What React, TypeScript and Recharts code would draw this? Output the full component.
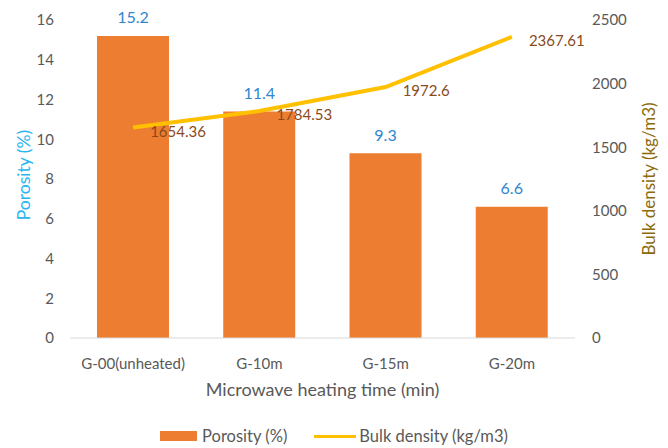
import React from 'react';
import {
    ComposedChart,
    Bar,
    Line,
    XAxis,
    YAxis,
    Legend,
    LabelList,
} from 'recharts';

const categories = ['G-00(unheated)', 'G-10m', 'G-15m', 'G-20m'];
const porosity = [15.2, 11.4, 9.3, 6.6];
const bulkDensity = [1654.36, 1784.53, 1972.6, 2367.61];
const porosityTicks = [0, 2, 4, 6, 8, 10, 12, 14, 16];
const densityTicks = [0, 500, 1000, 1500, 2000, 2500];

const data = categories.map((name, i) => ({
    name,
    porosity: porosity[i],
    density: bulkDensity[i],
}));

const FONT = 'Lato, "Open Sans", sans-serif';
const GREY = '#595959';

const BarValue = (props: any) => {
    const { x, y, width, value } = props;
    return (
        <text x={x + width / 2} y={y - 19} textAnchor="middle" dominantBaseline="central"
            fill="#2E86D1" fontSize={16} fontFamily={FONT}>
            {value}
        </text>
    );
};

const LineValue = (props: any) => {
    const { x, y, value } = props;
    return (
        <text x={x + 17} y={y + 3} textAnchor="start" dominantBaseline="central"
            fill="#8A4A1C" fontSize={15} fontFamily={FONT}>
            {value}
        </text>
    );
};

const LeftTitle = (props: any) => {
    const { viewBox } = props;
    const x = viewBox.x + 23;
    const y = viewBox.y + viewBox.height / 2 - 4;
    return (
        <text x={x} y={y} transform={`rotate(-90, ${x}, ${y})`} textAnchor="middle"
            dominantBaseline="central" fill="#29B6F0" fontSize={17.5} fontFamily={FONT}>
            Porosity (%)
        </text>
    );
};

const RightTitle = (props: any) => {
    const { viewBox } = props;
    const x = viewBox.x + 73;
    const y = viewBox.y + viewBox.height / 2;
    return (
        <text x={x} y={y} transform={`rotate(-90, ${x}, ${y})`} textAnchor="middle"
            dominantBaseline="central" fill="#8C6A0A" fontSize={17} fontFamily={FONT}>
            Bulk density (kg/m3)
        </text>
    );
};

const LegendBox = () => (
    <div style={{ display: 'flex', justifyContent: 'center', alignItems: 'center', height: 24,
        fontFamily: FONT, fontSize: 16.5, color: GREY, paddingLeft: 0 }}>
        <span style={{ display: 'inline-block', width: 37, height: 10, background: '#ED7D31', marginRight: 5 }} />
        <span style={{ marginRight: 27 }}>Porosity (%)</span>
        <span style={{ display: 'inline-block', width: 42, height: 3, background: '#FFC000', marginRight: 3 }} />
        <span>Bulk density (kg/m3)</span>
    </div>
);

export default function App() {
    return (
        <div style={{ position: 'absolute', left: 0, top: 0, background: '#fff' }}>
            <ComposedChart width={668} height={448} data={data}
                margin={{ top: 20, right: 0, left: 0, bottom: 0 }}>
                <XAxis
                    dataKey="name"
                    axisLine={{ stroke: '#D9D9D9' }}
                    tickLine={false}
                    tick={{ fill: GREY, fontSize: 15, fontFamily: FONT }}
                    tickMargin={14}
                    height={86}
                    label={{ value: 'Microwave heating time (min)', position: 'insideBottom', offset: 28,
                        fill: GREY, fontSize: 18, fontFamily: FONT }}
                />
                <YAxis
                    yAxisId="left"
                    domain={[0, 16]}
                    ticks={porosityTicks}
                    axisLine={false}
                    tickLine={false}
                    width={70}
                    tickMargin={10}
                    tick={{ fill: GREY, fontSize: 15, fontFamily: FONT }}
                    label={<LeftTitle />}
                />
                <YAxis
                    yAxisId="right"
                    orientation="right"
                    domain={[0, 2500]}
                    ticks={densityTicks}
                    axisLine={false}
                    tickLine={false}
                    width={93}
                    tickMargin={11}
                    tick={{ fill: GREY, fontSize: 15, fontFamily: FONT, textAnchor: 'start' }}
                    label={<RightTitle />}
                />
                <Legend verticalAlign="bottom" content={<LegendBox />} />
                <Bar yAxisId="left" dataKey="porosity" name="Porosity (%)" fill="#ED7D31"
                    barSize={72} isAnimationActive={false}>
                    <LabelList dataKey="porosity" content={<BarValue />} />
                </Bar>
                <Line yAxisId="right" dataKey="density" name="Bulk density (kg/m3)" stroke="#FFC000"
                    strokeWidth={4} dot={false} isAnimationActive={false}>
                    <LabelList dataKey="density" content={<LineValue />} />
                </Line>
            </ComposedChart>
        </div>
    );
}
